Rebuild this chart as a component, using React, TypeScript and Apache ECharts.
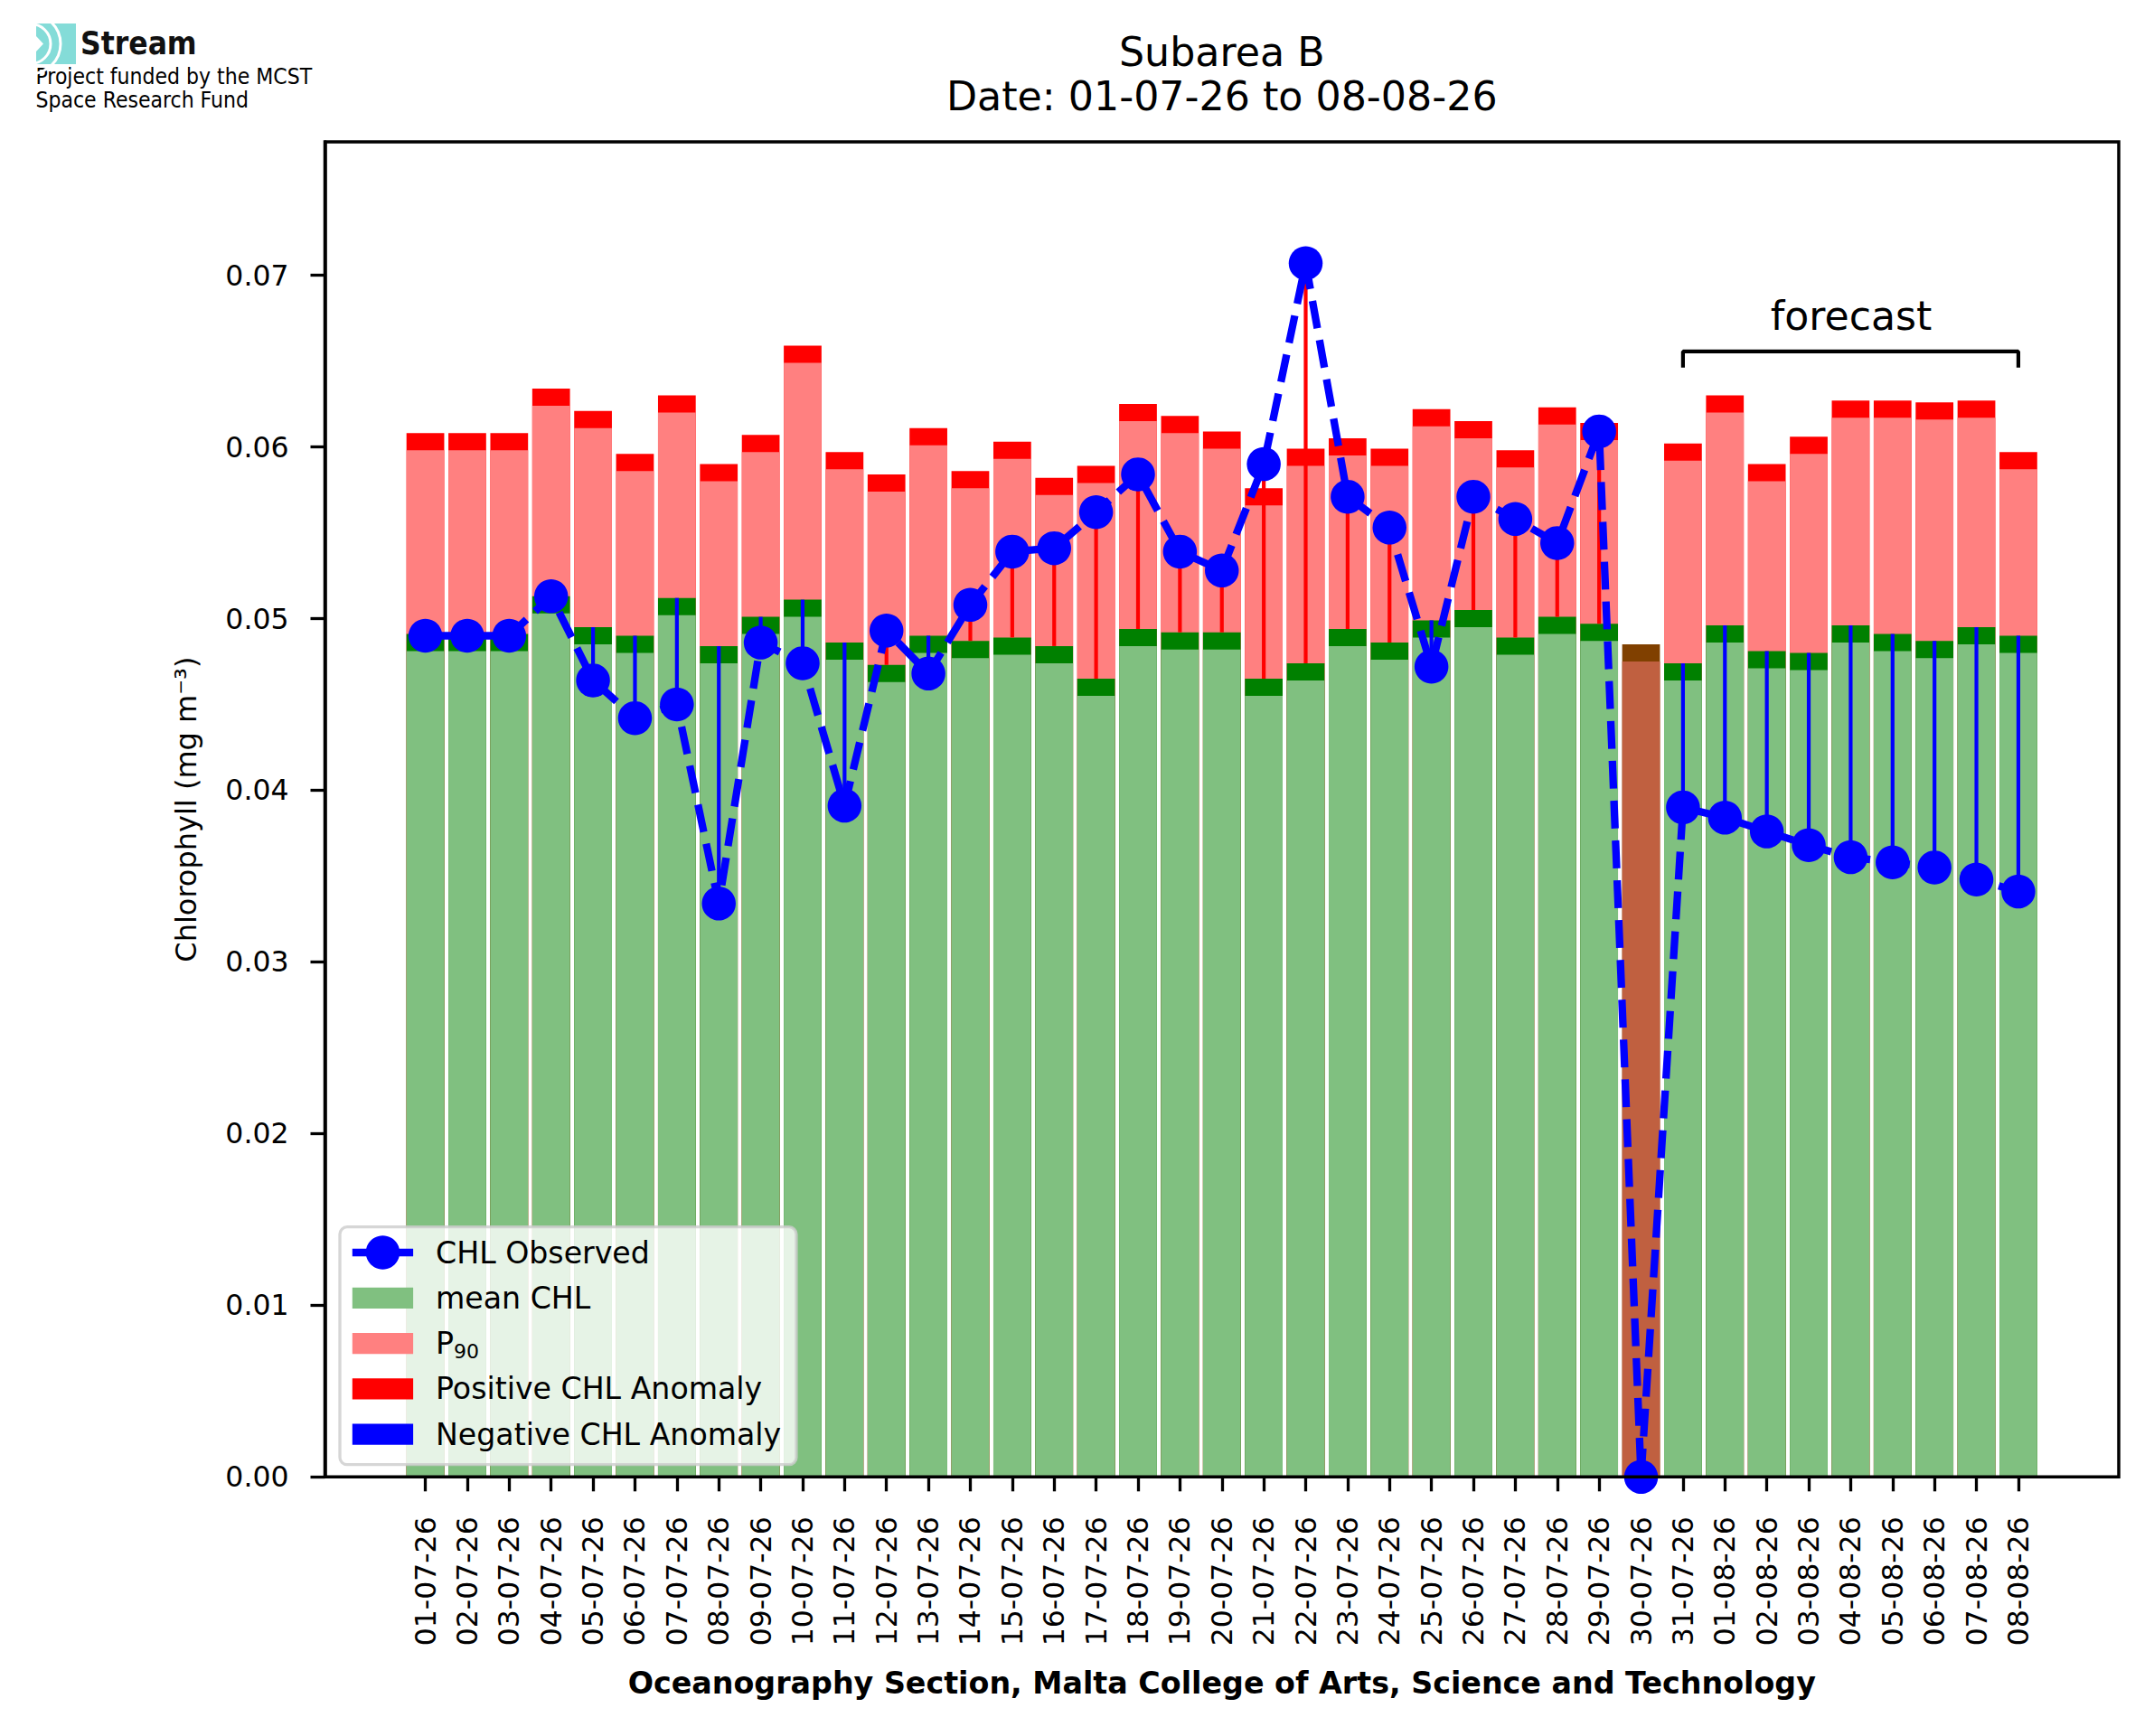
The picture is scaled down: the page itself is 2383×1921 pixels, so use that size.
import React, { useEffect, useRef } from 'react';
import * as echarts from 'echarts';

// ---------------- data ----------------
const categories = [
  '01-07-26', '02-07-26', '03-07-26', '04-07-26', '05-07-26', '06-07-26', '07-07-26', '08-07-26',
  '09-07-26', '10-07-26', '11-07-26', '12-07-26', '13-07-26', '14-07-26', '15-07-26', '16-07-26',
  '17-07-26', '18-07-26', '19-07-26', '20-07-26', '21-07-26', '22-07-26', '23-07-26', '24-07-26',
  '25-07-26', '26-07-26', '27-07-26', '28-07-26', '29-07-26', '30-07-26', '31-07-26', '01-08-26',
  '02-08-26', '03-08-26', '04-08-26', '05-08-26', '06-08-26', '07-08-26', '08-08-26',
];

const meanCHL = [
  0.0491, 0.0491, 0.0491, 0.0513, 0.0495, 0.0490, 0.0512, 0.0484,
  0.0501, 0.0511, 0.0486, 0.0473, 0.0490, 0.0487, 0.0489, 0.0484,
  0.0465, 0.0494, 0.0492, 0.0492, 0.0465, 0.0474, 0.0494, 0.0486,
  0.0499, 0.0505, 0.0489, 0.0501, 0.0497, 0.0485, 0.0474, 0.0496,
  0.0481, 0.0480, 0.0496, 0.0491, 0.0487, 0.0495, 0.0490,
];

// null = no P90 available (missing observation day)
const p90CHL: (number | null)[] = [
  0.0608, 0.0608, 0.0608, 0.0634, 0.0621, 0.0596, 0.0630, 0.0590,
  0.0607, 0.0659, 0.0597, 0.0584, 0.0611, 0.0586, 0.0603, 0.0582,
  0.0589, 0.0625, 0.0618, 0.0609, 0.0576, 0.0599, 0.0605, 0.0599,
  0.0622, 0.0615, 0.0598, 0.0623, 0.0614, null, 0.0602, 0.0630,
  0.0590, 0.0606, 0.0627, 0.0627, 0.0626, 0.0627, 0.0597,
];

const observedCHL = [
  0.0490, 0.0490, 0.0490, 0.0513, 0.0464, 0.0442, 0.0450, 0.0334,
  0.0486, 0.0474, 0.0391, 0.0493, 0.0468, 0.0508, 0.0539, 0.0541,
  0.0562, 0.0584, 0.0539, 0.0528, 0.0590, 0.0707, 0.0571, 0.0553,
  0.0472, 0.0571, 0.0558, 0.0544, 0.0609, 0.0000, 0.0390, 0.0384,
  0.0376, 0.0368, 0.0361, 0.0358, 0.0355, 0.0348, 0.0341,
];

const yTickValues = [0, 0.01, 0.02, 0.03, 0.04, 0.05, 0.06, 0.07];

const forecastFrom = '31-07-26';
const forecastTo = '08-08-26';
const forecastLevel = 0.06556;
const forecastTickLevel = 0.06462;

// ---------------- styling / layout ----------------
const W = 2383;
const H = 1921;
const FONT = "'DejaVu Sans', 'Liberation Sans', sans-serif";
const COND = "'DejaVu Sans Condensed', 'Liberation Sans Narrow', 'DejaVu Sans', sans-serif";
const BAND = 0.001;
const Y_MAX = Math.max(...observedCHL) * 1.1;

const AX = { left: 359.5, right: 2344, top: 157, bottom: 1634.3 };
const XPAD = 2.395;
const N = categories.length;
const UNIT = (AX.right - AX.left) / (N - 1 + 2 * XPAD);
const innerLeft = AX.left + (XPAD - 0.5) * UNIT;
const innerRight = AX.right - (XPAD - 0.5) * UNIT;

const C_LGREEN = '#80c080';
const C_DGREEN = '#008000';
const C_PINK = '#ff8080';
const C_RED = '#ff0000';
const C_BLUE = '#0000ff';
const C_BROWN_L = '#c06040';
const C_BROWN_D = '#804000';

function buildOption(): any {
  const missing = (i: number) => p90CHL[i] == null;

  const redData = p90CHL.map((v) => (v == null ? null : v));
  const pinkData = p90CHL.map((v) => (v == null ? null : v - BAND));
  const dGreenData = meanCHL.map((m, i) =>
    missing(i) ? { value: m, itemStyle: { color: C_BROWN_D } } : m
  );
  const lGreenData = meanCHL.map((m, i) =>
    missing(i) ? { value: m - BAND, itemStyle: { color: C_BROWN_L } } : m - BAND
  );

  const posData: number[][] = [];
  const negData: number[][] = [];
  categories.forEach((_, i) => {
    if (missing(i)) return;
    const d = [i, meanCHL[i], observedCHL[i]];
    if (observedCHL[i] > meanCHL[i]) posData.push(d);
    else negData.push(d);
  });

  const anomalyRender = (color: string) => (params: any, api: any) => {
    const x = api.value(0);
    const p1 = api.coord([x, api.value(1)]);
    const p2 = api.coord([x, api.value(2)]);
    return {
      type: 'line',
      shape: { x1: p1[0], y1: p1[1], x2: p2[0], y2: p2[1] },
      style: { stroke: color, lineWidth: 4.2 },
    };
  };

  const barCommon = {
    type: 'bar',
    xAxisIndex: 1,
    yAxisIndex: 1,
    barWidth: '90%',
    barGap: '-100%',
    silent: true,
  };

  const LZ = 120;
  const legendRows = [1386, 1436.3, 1486.6, 1536.9, 1587.2];
  const iconX = 389.8;
  const iconW = 67.3;
  const iconH = 23.3;
  const textX = 482;
  const legendFont = 33.2;

  const legendChildren: any[] = [
    {
      type: 'rect',
      z: LZ,
      shape: { x: 376, y: 1357.7, width: 505, height: 263, r: 8 },
      style: { fill: 'rgba(255,255,255,0.8)', stroke: 'rgba(204,204,204,0.8)', lineWidth: 3.3 },
    },
    {
      type: 'line',
      z: LZ + 1,
      shape: { x1: iconX, y1: legendRows[0], x2: iconX + iconW, y2: legendRows[0] },
      style: { stroke: C_BLUE, lineWidth: 8.3 },
    },
    {
      type: 'circle',
      z: LZ + 2,
      shape: { cx: iconX + iconW / 2, cy: legendRows[0], r: 18.75 },
      style: { fill: C_BLUE },
    },
  ];
  const patchColors = [C_LGREEN, C_PINK, C_RED, C_BLUE];
  patchColors.forEach((c, k) => {
    legendChildren.push({
      type: 'rect',
      z: LZ + 1,
      shape: { x: iconX, y: legendRows[k + 1] - iconH / 2, width: iconW, height: iconH },
      style: { fill: c },
    });
  });
  const legendTexts: [string, number][] = [
    ['CHL Observed', 0],
    ['mean CHL', 1],
    ['Positive CHL Anomaly', 3],
    ['Negative CHL Anomaly', 4],
  ];
  legendTexts.forEach(([t, k]) => {
    legendChildren.push({
      type: 'text',
      z: LZ + 1,
      x: textX,
      y: legendRows[k],
      style: {
        text: t,
        fontSize: legendFont,
        fontFamily: FONT,
        fill: '#000',
        align: 'left',
        verticalAlign: 'middle',
      },
    });
  });
  legendChildren.push({
    type: 'text',
    z: LZ + 1,
    x: textX,
    y: legendRows[2],
    style: { text: 'P', fontSize: legendFont, fontFamily: FONT, fill: '#000', align: 'left', verticalAlign: 'middle' },
  });
  legendChildren.push({
    type: 'text',
    z: LZ + 1,
    x: textX + 0.603 * legendFont,
    y: legendRows[2] + 9,
    style: { text: '90', fontSize: 22, fontFamily: FONT, fill: '#000', align: 'left', verticalAlign: 'middle' },
  });

  const logo = {
    type: 'group',
    children: [
      { type: 'rect', shape: { x: 40, y: 26, width: 44, height: 45 }, style: { fill: '#84dcd8' } },
      {
        type: 'polygon',
        z: 1,
        shape: { points: [[40, 40], [48, 48.5], [40, 57]] },
        style: { fill: '#ffffff' },
      },
      {
        type: 'arc',
        z: 1,
        shape: { cx: 34, cy: 48.5, r: 22, startAngle: -Math.PI / 2, endAngle: Math.PI / 2 },
        style: { stroke: '#ffffff', lineWidth: 3, fill: 'none' },
      },
      {
        type: 'arc',
        z: 1,
        shape: { cx: 34, cy: 48.5, r: 33, startAngle: -Math.PI / 2, endAngle: Math.PI / 2 },
        style: { stroke: '#ffffff', lineWidth: 3, fill: 'none' },
      },
      {
        type: 'text',
        x: 89,
        y: 48.3,
        style: {
          text: 'Stream',
          fontSize: 35,
          fontWeight: 'bold',
          fontFamily: COND,
          fill: '#111',
          align: 'left',
          verticalAlign: 'middle',
        },
      },
      {
        type: 'text',
        x: 39.5,
        y: 84.3,
        style: {
          text: 'Project funded by the MCST',
          fontSize: 24.5,
          fontFamily: COND,
          fill: '#000',
          align: 'left',
          verticalAlign: 'middle',
        },
      },
      {
        type: 'text',
        x: 39.5,
        y: 110.6,
        style: {
          text: 'Space Research Fund',
          fontSize: 24.5,
          fontFamily: COND,
          fill: '#000',
          align: 'left',
          verticalAlign: 'middle',
        },
      },
    ],
  };

  return {
    animation: false,
    backgroundColor: '#ffffff',
    textStyle: { fontFamily: FONT },
    title: {
      text: 'Subarea B\nDate: 01-07-26 to 08-08-26',
      left: (AX.left + AX.right) / 2,
      top: 32.5,
      padding: 0,
      textAlign: 'center',
      textStyle: {
        fontSize: 44.3,
        fontWeight: 'normal',
        fontFamily: FONT,
        color: '#000',
        lineHeight: 49.5,
      },
    },
    grid: [
      { left: AX.left, top: AX.top, right: W - AX.right, bottom: H - AX.bottom, show: false },
      { left: innerLeft, top: AX.top, right: W - innerRight, bottom: H - AX.bottom, show: false },
    ],
    xAxis: [
      { gridIndex: 0, type: 'value', min: -XPAD, max: N - 1 + XPAD, show: false },
      {
        gridIndex: 1,
        type: 'category',
        data: categories,
        boundaryGap: true,
        axisLine: { show: false },
        axisTick: {
          show: true,
          alignWithLabel: true,
          length: 16,
          lineStyle: { color: '#000', width: 3.3 },
        },
        axisLabel: {
          interval: 0,
          rotate: 90,
          fontSize: 31.5,
          fontFamily: FONT,
          color: '#000',
          margin: 44,
        },
        splitLine: { show: false },
      },
    ],
    yAxis: [
      {
        gridIndex: 0,
        type: 'value',
        position: 'left',
        min: 0,
        max: Y_MAX,
        axisLine: { show: true, onZero: false, lineStyle: { color: '#000', width: 3.5 } },
        axisTick: {
          show: true,
          length: 16,
          lineStyle: { color: '#000', width: 3.3 },
          customValues: yTickValues,
        },
        axisLabel: {
          customValues: yTickValues,
          formatter: (v: number) => v.toFixed(2),
          fontSize: 31.5,
          fontFamily: FONT,
          color: '#000',
          margin: 40,
        },
        splitLine: { show: false },
        name: 'Chlorophyll (mg m\u207B\u00B3)',
        nameLocation: 'middle',
        nameGap: 138,
        nameTextStyle: { fontSize: 32, fontFamily: FONT, color: '#000' },
      },
      { gridIndex: 1, type: 'value', min: 0, max: Y_MAX, show: false },
    ],
    series: [
      { ...barCommon, name: 'P90 band', data: redData, itemStyle: { color: C_RED } },
      { ...barCommon, name: 'P90', data: pinkData, itemStyle: { color: C_PINK } },
      { ...barCommon, name: 'mean band', data: dGreenData, itemStyle: { color: C_DGREEN } },
      { ...barCommon, name: 'mean CHL', data: lGreenData, itemStyle: { color: C_LGREEN } },
      {
        type: 'custom',
        name: 'Positive CHL Anomaly',
        xAxisIndex: 1,
        yAxisIndex: 1,
        data: posData,
        encode: { x: 0, y: [1, 2] },
        renderItem: anomalyRender(C_RED),
        silent: true,
        z: 3,
      },
      {
        type: 'custom',
        name: 'Negative CHL Anomaly',
        xAxisIndex: 1,
        yAxisIndex: 1,
        data: negData,
        encode: { x: 0, y: [1, 2] },
        renderItem: anomalyRender(C_BLUE),
        silent: true,
        z: 3,
      },
      {
        type: 'line',
        name: 'CHL Observed',
        xAxisIndex: 1,
        yAxisIndex: 1,
        data: observedCHL,
        symbol: 'circle',
        symbolSize: 37.5,
        showAllSymbol: true,
        itemStyle: { color: C_BLUE },
        lineStyle: { color: C_BLUE, width: 8.3, type: [30.8, 13.3], cap: 'butt' },
        silent: true,
        z: 4,
      },
      {
        type: 'line',
        name: 'forecast bracket',
        xAxisIndex: 1,
        yAxisIndex: 1,
        data: [
          [forecastFrom, forecastTickLevel],
          [forecastFrom, forecastLevel],
          [forecastTo, forecastLevel],
          [forecastTo, forecastTickLevel],
        ],
        symbol: 'none',
        lineStyle: { color: '#000', width: 4.2 },
        silent: true,
        z: 4,
      },
    ],
    graphic: [
      logo,
      {
        type: 'rect',
        z: 100,
        shape: { x: AX.left, y: AX.top, width: AX.right - AX.left, height: AX.bottom - AX.top },
        style: { fill: 'none', stroke: '#000', lineWidth: 3.5 },
        silent: true,
      },
      {
        type: 'text',
        z: 100,
        x: 2048,
        y: 349.7,
        style: {
          text: 'forecast',
          fontSize: 44.2,
          fontFamily: FONT,
          fill: '#000',
          align: 'center',
          verticalAlign: 'middle',
        },
      },
      {
        type: 'text',
        z: 100,
        x: (AX.left + AX.right) / 2,
        y: 1862,
        style: {
          text: 'Oceanography Section, Malta College of Arts, Science and Technology',
          fontSize: 33.3,
          fontWeight: 'bold',
          fontFamily: FONT,
          fill: '#000',
          align: 'center',
          verticalAlign: 'middle',
        },
      },
      { type: 'group', z: LZ, children: legendChildren },
    ],
  };
}

export default function App() {
  const ref = useRef<HTMLDivElement>(null);
  useEffect(() => {
    if (!ref.current) return;
    const chart = echarts.init(ref.current, null, { renderer: 'svg', width: W, height: H });
    chart.setOption(buildOption());
    return () => {
      chart.dispose();
    };
  }, []);
  return (
    <div
      ref={ref}
      style={{ position: 'fixed', left: 0, top: 0, width: W, height: H, background: '#ffffff' }}
    />
  );
}
